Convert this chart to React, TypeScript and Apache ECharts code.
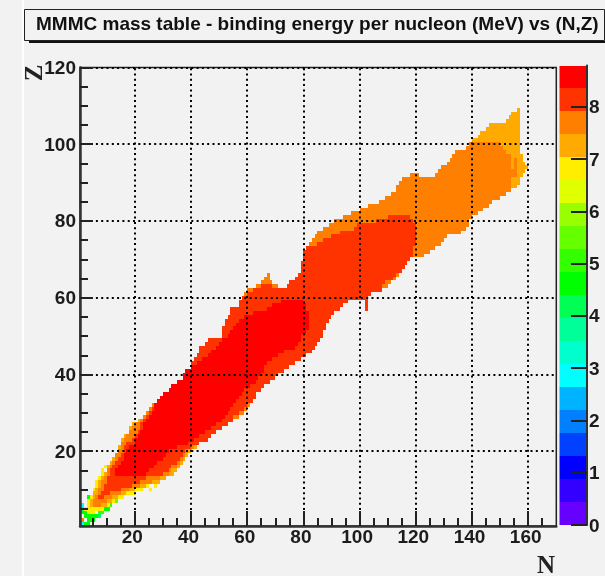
import React, { useEffect, useRef } from "react";
import * as echarts from "echarts";

const TITLE = "MMMC mass table - binding energy per nucleon (MeV) vs (N,Z)";
const N_MAJOR = [20, 40, 60, 80, 100, 120, 140, 160];
const N_MINOR = [5, 10, 15, 25, 30, 35, 45, 50, 55, 65, 70, 75, 85, 90, 95, 105, 110, 115, 125, 130, 135, 145, 150, 155, 165];
const Z_MAJOR = [20, 40, 60, 80, 100, 120];
const Z_MINOR = [5, 10, 15, 25, 30, 35, 45, 50, 55, 65, 70, 75, 85, 90, 95, 105, 110, 115];
const SCALE_MAX = 8.79;
const PALETTE = [
  "#6600ff", "#3300ff", "#0000ff", "#0040ff", "#0080ff", "#00b3ff", "#00ffff", "#00ffcc", "#00ff99", "#00ff55",
  "#00ff00", "#33ff00", "#66ff00", "#99ff00", "#e0ff00", "#ffee00", "#ffaa00", "#ff8000", "#ff3300", "#ff0000",
];

// Spans per proton number: [Z, N from, N to]
const YELLOW_E = 6.8;
const yellowRows = [
  [4, 3, 6], [5, 2, 9], [6, 3, 11], [7, 3, 13], [8, 4, 16], [9, 5, 19], [9, 19, 20], [10, 5, 23], [10, 25, 26], [11, 6, 25],
  [11, 27, 28], [12, 6, 29], [13, 7, 8], [14, 8, 9], [15, 8, 9], [16, 9, 10],
];
const AMBER_E = 7.2;
const amberRows = [
  [6, 4, 10], [7, 4, 12], [8, 5, 14], [9, 5, 17], [10, 6, 20], [11, 7, 24], [12, 7, 29], [13, 8, 31], [14, 9, 34], [15, 10, 35],
  [16, 10, 36], [17, 11, 37], [18, 12, 38], [19, 13, 39], [20, 14, 40], [21, 14, 42], [22, 15, 43], [23, 15, 46], [24, 16, 47],
  [25, 18, 49], [26, 18, 51], [27, 19, 53], [28, 21, 55], [29, 23, 57], [30, 24, 59], [31, 25, 60], [32, 26, 61], [33, 28, 62],
  [34, 29, 63], [35, 30, 63], [36, 32, 65], [37, 33, 66], [38, 35, 68], [39, 37, 70], [40, 37, 71], [41, 38, 73], [42, 40, 75],
  [43, 40, 77], [44, 41, 79], [45, 42, 81], [46, 43, 83], [47, 43, 84], [48, 45, 85], [49, 46, 86], [50, 51, 87], [51, 51, 87],
  [52, 51, 88], [53, 52, 88], [54, 52, 89], [55, 53, 90], [56, 54, 91], [57, 54, 93], [57, 102, 103], [58, 57, 94], [58, 102, 103],
  [59, 57, 96], [59, 102, 103], [60, 58, 103], [61, 59, 104], [62, 60, 108], [63, 63, 71], [63, 74, 110], [64, 65, 69], [64, 75, 111],
  [65, 66, 68], [65, 77, 113], [66, 67, 68], [66, 78, 114], [67, 79, 115], [68, 79, 116], [69, 79, 117], [70, 80, 118], [71, 80, 123],
  [72, 80, 125], [73, 81, 127], [74, 82, 129], [75, 83, 130], [76, 84, 131], [77, 85, 136], [78, 87, 138], [79, 89, 139], [80, 91, 139],
  [81, 94, 140], [82, 97, 142], [83, 100, 144], [84, 103, 146], [85, 107, 147], [86, 109, 150], [87, 111, 152], [88, 113, 154],
  [89, 113, 156], [90, 114, 157], [91, 115, 157], [92, 118, 121], [92, 127, 158], [93, 128, 159], [94, 129, 160], [95, 131, 159],
  [96, 132, 158], [97, 133, 158], [98, 134, 157], [99, 138, 157], [100, 139, 157], [101, 140, 157], [102, 142, 157], [103, 143, 157],
  [104, 145, 157], [105, 146, 157], [106, 152, 157], [107, 153, 157], [108, 154, 157], [109, 156, 157],
];
const ORANGE_E = 7.6;
const orangeLowRows = [
  [6, 5, 8], [7, 5, 10], [8, 6, 12], [9, 7, 15], [10, 7, 18], [11, 8, 22], [12, 8, 26], [13, 9, 29], [14, 10, 32], [15, 10, 33],
  [16, 11, 35], [17, 12, 36], [18, 13, 37], [19, 13, 38], [20, 14, 39], [21, 15, 41], [22, 15, 43], [23, 16, 46], [24, 17, 47],
  [25, 18, 49], [26, 19, 51], [27, 20, 53], [28, 22, 55], [29, 23, 57], [30, 24, 59], [31, 25, 60], [32, 26, 61],
];
const orangeMidFrom = 33;
const orangeMidTo = 88;
const orangeTopRows = [
  [89, 113, 154], [90, 114, 154], [91, 115, 154], [92, 118, 121], [92, 127, 156], [93, 128, 156], [94, 129, 154], [94, 155, 156],
  [95, 131, 154], [95, 155, 156], [96, 132, 154], [96, 155, 156], [97, 133, 154], [98, 134, 152], [99, 138, 151], [100, 139, 150],
];
const RED_ORANGE_E = 8.1;
const redOrangeLowRows = [
  [8, 7, 9], [9, 8, 11], [10, 9, 15], [11, 9, 19], [12, 10, 22], [13, 10, 24], [14, 11, 30], [15, 11, 32], [16, 12, 33], [17, 13, 35],
  [18, 14, 36], [19, 15, 37], [20, 16, 38], [21, 16, 40], [22, 17, 43], [23, 19, 46], [24, 20, 47], [25, 21, 49], [26, 22, 51],
  [27, 22, 53], [28, 23, 55], [29, 24, 55], [30, 25, 57], [31, 26, 59], [32, 27, 60],
];
const redOrangeMidFrom = 33;
const redOrangeMidTo = 60;
const redOrangeTopRows = [
  [61, 60, 104], [62, 62, 108], [63, 65, 69], [63, 74, 108], [64, 75, 109], [65, 77, 112], [66, 78, 113], [67, 79, 115], [68, 79, 116],
  [69, 79, 117], [70, 80, 118], [71, 80, 119], [72, 80, 119], [73, 81, 119], [74, 85, 120], [75, 87, 120], [76, 90, 120], [77, 93, 120],
  [78, 98, 120], [79, 99, 120], [80, 106, 119], [81, 110, 118],
];
const RED_E = 8.6;
const redRows = [
  [14, 13, 24], [15, 13, 25], [16, 14, 27], [17, 15, 28], [18, 16, 30], [19, 16, 31], [20, 17, 32], [21, 18, 35], [22, 20, 39],
  [23, 20, 41], [24, 21, 43], [25, 22, 45], [26, 23, 47], [27, 23, 49], [28, 24, 51], [29, 25, 52], [30, 26, 53], [31, 27, 54],
  [32, 27, 55], [33, 28, 56], [34, 29, 57], [35, 30, 58], [36, 32, 59], [37, 33, 61], [38, 35, 63], [39, 37, 64], [40, 37, 65],
  [41, 38, 66], [42, 40, 66], [43, 42, 67], [44, 44, 69], [45, 46, 71], [46, 47, 73], [47, 49, 77], [48, 50, 78], [49, 51, 79],
  [50, 53, 79], [51, 54, 81], [52, 55, 82], [53, 56, 82], [54, 57, 82], [55, 59, 82], [56, 62, 82], [57, 67, 81], [58, 69, 81], [59, 72, 80],
];
// Light nuclei: [Z, N from, N to, MeV]
const lightCells = [
  [1, 1, 2, 3.0], [1, 2, 4, 4.6], [2, 1, 2, 7.5], [2, 3, 6, 4.6], [3, 2, 7, 4.6], [3, 7, 8, 4.1], [4, 1, 3, 4.6], [4, 7, 9, 5.0],
  [5, 1, 2, 4.0], [5, 9, 11, 4.6], [6, 1, 2, 3.0], [6, 11, 12, 5.2], [7, 13, 14, 5.4], [8, 3, 4, 4.8], [8, 15, 16, 5.8], [9, 17, 18, 6.0],
  [10, 6, 7, 6.0], [16, 9, 10, 6.2],
];

const spans = (rows: number[][], e: number) => rows.map((r) => [r[1], r[2], r[0], e]);
const between = (rows: number[][], a: number, b: number) => rows.filter((r) => r[0] >= a && r[0] <= b);
const cellData = [
  ...lightCells.map((c) => [c[1], c[2], c[0], c[3]]),
  ...spans(yellowRows, YELLOW_E),
  ...spans(amberRows, AMBER_E),
  ...spans(orangeLowRows, ORANGE_E),
  ...spans(between(amberRows, orangeMidFrom, orangeMidTo), ORANGE_E),
  ...spans(orangeTopRows, ORANGE_E),
  ...spans(redOrangeLowRows, RED_ORANGE_E),
  ...spans(between(amberRows, redOrangeMidFrom, redOrangeMidTo), RED_ORANGE_E),
  ...spans(redOrangeTopRows, RED_ORANGE_E),
  ...spans(redRows, RED_E),
];
const bandStep = SCALE_MAX / PALETTE.length;
const bandData = PALETTE.map((_, i) => [i * bandStep, (i + 1) * bandStep, i]);

const LABEL_FONT = "'Liberation Sans', Arial, sans-serif";
const INK = "#222222";
const BG = "#f2f2f2";

export default function App() {
  const ref = useRef<HTMLDivElement>(null);
  useEffect(() => {
    const chart = echarts.init(ref.current!, null, { renderer: "svg" });
    const labelStyle = { fontFamily: LABEL_FONT, fontSize: 19, fontWeight: "bold" as const, color: "#1c1c1c" };
    const hiddenAxis = { show: true, axisLine: { show: false }, axisLabel: { show: false }, splitLine: { show: false } };
    const dot = { type: [2, 3.3], width: 2, cap: "butt", color: "#000" };
    chart.setOption({
      animation: false,
      backgroundColor: BG,
      title: {
        text: TITLE,
        left: 31,
        top: 9,
        textStyle: { fontFamily: LABEL_FONT, fontSize: 19, fontWeight: "bold", color: "#111" },
      },
      graphic: [
        { type: "rect", silent: true, shape: { x: 22, y: 0, width: 2, height: 576 }, style: { fill: "#ffffff" } },
        { type: "rect", silent: true, z: -1, shape: { x: 24.5, y: 9.5, width: 580, height: 31 }, style: { fill: BG, stroke: "#222", lineWidth: 1 } },
        { type: "rect", silent: true, shape: { x: 29, y: 41, width: 576, height: 2 }, style: { fill: "#111" } },
        {
          type: "text", x: 33, y: 73, rotation: Math.PI / 2, silent: true,
          style: { text: "Z", fontFamily: "'Liberation Serif', serif", fontWeight: "bold", fontSize: 25, fill: "#222", align: "center", verticalAlign: "middle" },
        },
        {
          type: "text", x: 546, y: 564, silent: true,
          style: { text: "N", fontFamily: "'Liberation Serif', serif", fontWeight: "bold", fontSize: 25, fill: "#222", align: "center", verticalAlign: "middle" },
        },
      ],
      grid: [
        { left: 80, top: 67.5, width: 476.3, height: 458.5, show: true, backgroundColor: "transparent", borderColor: "#222", borderWidth: 1.5, z: 4 },
        { left: 559.5, top: 65.5, width: 27.5, height: 459.5 },
      ],
      xAxis: [
        {
          type: "value", gridIndex: 0, min: 0.5, max: 170, z: 5, position: "bottom",
          axisLine: { show: true, onZero: false, lineStyle: { color: "#333", width: 2.5 } },
          axisTick: { show: true, inside: true, length: 15, customValues: N_MAJOR, lineStyle: { color: INK, width: 2 } },
          axisLabel: { show: true, customValues: N_MAJOR, margin: 1, padding: [0, 5, 0, 0], ...labelStyle },
          splitLine: { show: false },
        },
        {
          type: "value", gridIndex: 0, min: 0.5, max: 170, z: 5, position: "bottom", ...hiddenAxis,
          axisTick: { show: true, inside: true, length: 8, customValues: N_MINOR, lineStyle: { color: INK, width: 2 } },
        },
        { type: "value", gridIndex: 1, min: 0, max: 1, show: false },
      ],
      yAxis: [
        {
          type: "value", gridIndex: 0, min: 0.5, max: 120, z: 5, position: "left",
          axisLine: { show: true, onZero: false, lineStyle: { color: "#333", width: 2.5 } },
          axisTick: { show: true, inside: true, length: 13, customValues: Z_MAJOR, lineStyle: { color: INK, width: 2 } },
          axisLabel: { show: true, customValues: Z_MAJOR, margin: 4, ...labelStyle },
          splitLine: { show: false },
        },
        {
          type: "value", gridIndex: 0, min: 0.5, max: 120, z: 5, position: "left", ...hiddenAxis,
          axisTick: { show: true, inside: true, length: 8, customValues: Z_MINOR, lineStyle: { color: INK, width: 2 } },
        },
        {
          type: "value", gridIndex: 1, min: 0, max: SCALE_MAX, interval: 1, position: "right", z: 5,
          axisLine: { show: true, onZero: false, lineStyle: { color: "#333", width: 2 } },
          axisTick: { show: true, inside: true, length: 16, lineStyle: { color: INK, width: 2 } },
          axisLabel: { show: true, margin: 2, showMaxLabel: false, ...labelStyle },
          splitLine: { show: false },
        },
      ],
      series: [
        {
          type: "custom",
          name: "binding energy per nucleon",
          xAxisIndex: 0,
          yAxisIndex: 0,
          z: 2,
          clip: false,
          silent: true,
          dimensions: ["nFrom", "nTo", "z", "e"],
          encode: { x: [0, 1], y: 2 },
          data: cellData,
          renderItem: (_: unknown, api: any) => {
            const a = api.coord([api.value(0), api.value(2) + 0.5]);
            const b = api.coord([api.value(1), api.value(2) - 0.5]);
            const x0 = Math.round(a[0]);
            const y0 = Math.round(a[1]);
            return {
              type: "rect",
              shape: { x: x0, y: y0, width: Math.round(b[0]) - x0, height: Math.round(b[1]) - y0 },
              style: { fill: PALETTE[Math.min(PALETTE.length - 1, Math.floor(api.value(3) / bandStep))] },
            };
          },
          markLine: {
            silent: true,
            symbol: "none",
            z: 4,
            label: { show: false },
            lineStyle: dot,
            data: [...N_MAJOR.map((v) => ({ xAxis: v })), ...Z_MAJOR.map((v) => ({ yAxis: v }))],
          },
        },
        {
          type: "custom",
          name: "palette",
          xAxisIndex: 2,
          yAxisIndex: 2,
          z: 2,
          silent: true,
          dimensions: ["from", "to", "band"],
          encode: { y: [0, 1] },
          data: bandData,
          renderItem: (_: unknown, api: any) => {
            const a = api.coord([0, api.value(1)]);
            const b = api.coord([1, api.value(0)]);
            const y0 = Math.round(a[1]);
            return {
              type: "rect",
              shape: { x: a[0], y: y0, width: b[0] - a[0], height: Math.round(b[1]) - y0 },
              style: { fill: PALETTE[api.value(2)] },
            };
          },
        },
      ],
    });
    return () => chart.dispose();
  }, []);
  return <div ref={ref} style={{ position: "absolute", left: 0, top: 0, width: 605, height: 576, filter: "blur(0.5px)" }} />;
}
